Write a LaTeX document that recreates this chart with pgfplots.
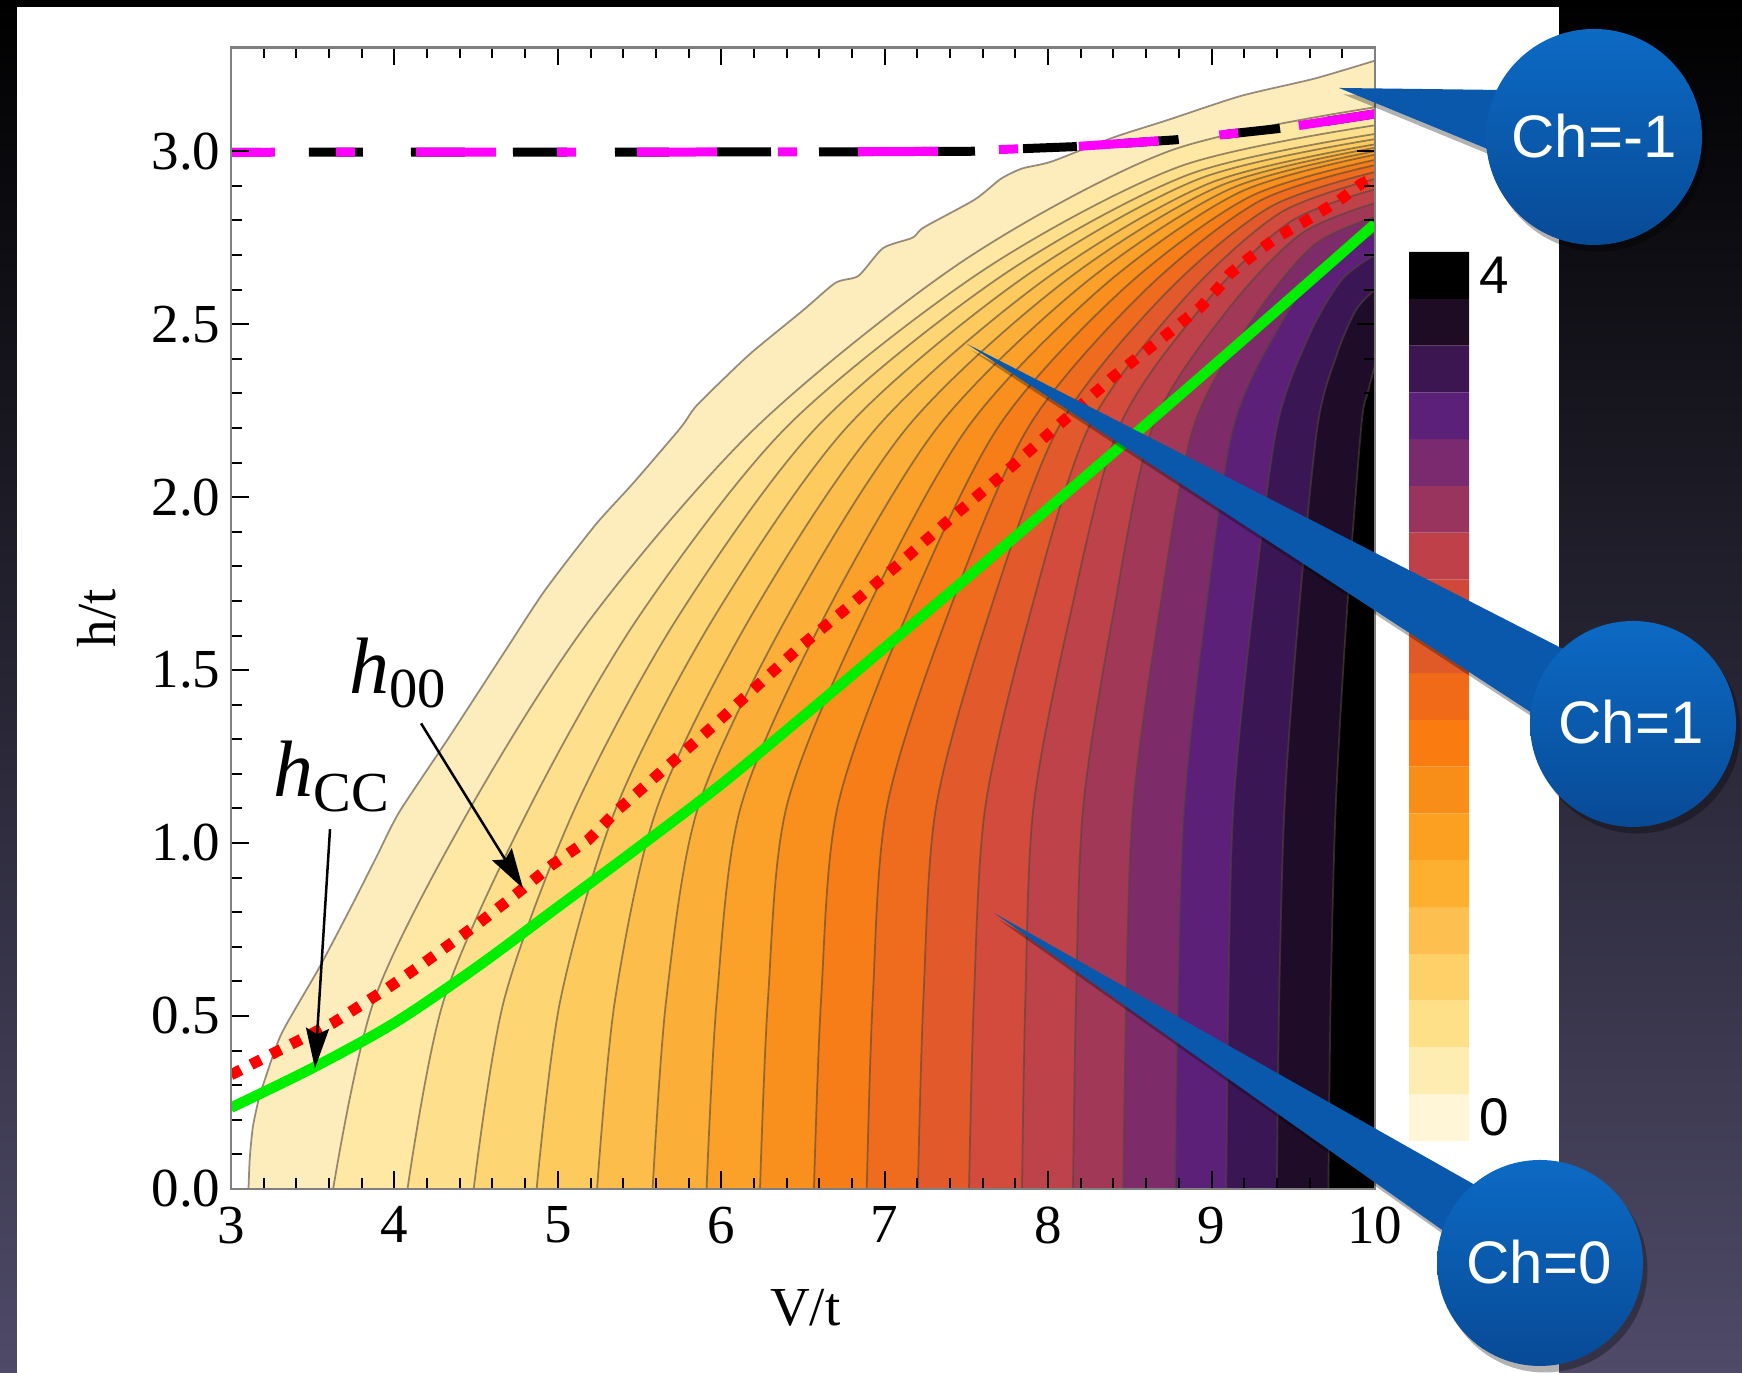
\documentclass[border=0pt]{standalone}
\usepackage{pgfplots}
\pgfplotsset{compat=1.18}
\usepackage{fontspec}
\setmainfont{Liberation Serif}
\newfontfamily\arialfont{Liberation Sans}
\usetikzlibrary{arrows.meta}
% band colours (lightest -> black)
\definecolor{b0}{HTML}{FDEDBC}
\definecolor{b1}{HTML}{FEE8A4}
\definecolor{b2}{HTML}{FEE08C}
\definecolor{b3}{HTML}{FDD573}
\definecolor{b4}{HTML}{FDCA5E}
\definecolor{b5}{HTML}{FDBD4A}
\definecolor{b6}{HTML}{FCAF38}
\definecolor{b7}{HTML}{FBA028}
\definecolor{b8}{HTML}{F98F1C}
\definecolor{b9}{HTML}{F67D17}
\definecolor{b10}{HTML}{EF6B1E}
\definecolor{b11}{HTML}{E25A2C}
\definecolor{b12}{HTML}{D24B3C}
\definecolor{b13}{HTML}{BE4249}
\definecolor{b14}{HTML}{A13858}
\definecolor{b15}{HTML}{7E2B6A}
\definecolor{b16}{HTML}{5C2078}
\definecolor{b17}{HTML}{3B1654}
\definecolor{b18}{HTML}{1F0C28}
\definecolor{b19}{HTML}{000000}
% colorbar swatches (bottom -> top)
\definecolor{cb0}{HTML}{FFF6D8}
\definecolor{cb1}{HTML}{FEEDB0}
\definecolor{cb2}{HTML}{FEE088}
\definecolor{cb3}{HTML}{FDD068}
\definecolor{cb4}{HTML}{FDC050}
\definecolor{cb5}{HTML}{FDB030}
\definecolor{cb6}{HTML}{FBA020}
\definecolor{cb7}{HTML}{F88E18}
\definecolor{cb8}{HTML}{FA7C10}
\definecolor{cb9}{HTML}{F06A18}
\definecolor{cb10}{HTML}{E05A28}
\definecolor{cb11}{HTML}{D04838}
\definecolor{cb12}{HTML}{C0404A}
\definecolor{cb13}{HTML}{98345E}
\definecolor{cb14}{HTML}{7A2A6E}
\definecolor{cb15}{HTML}{5B2078}
\definecolor{cb16}{HTML}{3B1650}
\definecolor{cb17}{HTML}{1E0C24}
\definecolor{cb18}{HTML}{000000}
\definecolor{cline}{RGB}{80,70,60}
\definecolor{hgreen}{RGB}{0,238,0}
\definecolor{hred}{RGB}{255,0,0}
\definecolor{mag}{RGB}{255,0,255}
\definecolor{calloutA}{RGB}{12,106,196}
\definecolor{calloutB}{RGB}{8,74,150}
\definecolor{wedge}{RGB}{9,88,172}
\definecolor{bgbot}{RGB}{78,74,104}
\definecolor{bgmid}{RGB}{16,15,32}

\begin{document}
\begin{tikzpicture}[x=1pt,y=1pt]
% slide background
\shade[top color=black, middle color=bgmid, bottom color=bgbot] (0,0) rectangle (348.4,274.6);
\fill[white] (3.4,0) rectangle (311.8,273.2);

\begin{axis}[
  at={(46.2pt,36.8pt)}, anchor=south west,
  scale only axis, width=228.8pt, height=228.3pt,
  xmin=3, xmax=10, ymin=0, ymax=3.3,
  axis on top,
  xtick={3,4,5,6,7,8,9,10},
  ytick={0,0.5,1,1.5,2,2.5,3},
  minor x tick num=4, minor y tick num=4,
  tick align=inside,
  major tick length=3.6pt, minor tick length=2.2pt,
  tick style={black, line width=0.4pt},
  axis line style={black!50, line width=0.5pt},
  /pgf/number format/assume math mode=true,
  yticklabel style={/pgf/number format/.cd, fixed, fixed zerofill, precision=1, /tikz/.cd, xshift=1.4pt},
  ticklabel style={font=\fontsize{11}{13}\selectfont},
  xlabel={V/t}, ylabel={h/t},
  label style={font=\fontsize{11}{13}\selectfont},
  xlabel style={at={(axis description cs:0.502,-0.104)}, anchor=center},
  ylabel style={at={(axis description cs:-0.117,0.5)}, anchor=center},
  every axis plot/.append style={line join=round},
]
% ---- filled contour bands (region right of each contour line) ----
\addplot[smooth, tension=0.4, fill=b0, draw=cline, draw opacity=0.6, line width=0.35pt] coordinates {
(3.107,0) (3.115,0.09) (3.134,0.18) (3.17,0.26) (3.21,0.32) (3.31,0.45) (3.54,0.64) (3.74,0.82) (3.89,0.96) (4.03,1.09) (4.34,1.31) (4.67,1.55) (4.92,1.73) (5.23,1.92) (5.46,2.04) (5.75,2.20) (5.84,2.26) (6.01,2.34) (6.19,2.42) (6.50,2.54) (6.70,2.62) (6.84,2.64) (6.99,2.72) (7.17,2.75) (7.24,2.78) (7.55,2.86) (7.71,2.92) (7.84,2.95) (8.02,2.97) (8.40,3.04) (8.73,3.09) (9.18,3.16) (9.63,3.21) (10,3.262)} \closedcycle;
\addplot[smooth, tension=0.5, fill=b1, draw=cline, draw opacity=0.6, line width=0.35pt] coordinates {
(3.625,0) (3.879,0.55) (4.47,1.106) (5.203,1.65) (6.215,2.203) (7.477,2.682) (8.738,3.0) (10,3.127)} \closedcycle;
\addplot[smooth, tension=0.5, fill=b2, draw=cline, draw opacity=0.6, line width=0.35pt] coordinates {
(4.08,0) (4.305,0.55) (4.83,1.106) (5.489,1.65) (6.40,2.203) (7.6,2.655) (8.8,2.955) (10,3.075)} \closedcycle;
\addplot[smooth, tension=0.5, fill=b3, draw=cline, draw opacity=0.6, line width=0.35pt] coordinates {
(4.485,0) (4.673,0.55) (5.11,1.106) (5.73,1.65) (6.585,2.203) (7.723,2.642) (8.862,2.933) (10,3.05)} \closedcycle;
\addplot[smooth, tension=0.5, fill=b4, draw=cline, draw opacity=0.6, line width=0.35pt] coordinates {
(4.87,0) (5.017,0.55) (5.36,1.106) (5.952,1.65) (6.77,2.203) (7.847,2.634) (8.923,2.92) (10,3.035)} \closedcycle;
\addplot[smooth, tension=0.5, fill=b5, draw=cline, draw opacity=0.6, line width=0.35pt] coordinates {
(5.24,0) (5.351,0.55) (5.61,1.106) (6.175,1.65) (6.955,2.203) (7.97,2.626) (8.985,2.907) (10,3.02)} \closedcycle;
\addplot[smooth, tension=0.5, fill=b6, draw=cline, draw opacity=0.6, line width=0.35pt] coordinates {
(5.58,0) (5.664,0.55) (5.86,1.106) (6.398,1.65) (7.14,2.203) (8.093,2.621) (9.047,2.899) (10,3.01)} \closedcycle;
\addplot[smooth, tension=0.5, fill=b7, draw=cline, draw opacity=0.6, line width=0.35pt] coordinates {
(5.91,0) (5.973,0.55) (6.12,1.106) (6.626,1.65) (7.325,2.203) (8.217,2.616) (9.108,2.89) (10,3.0)} \closedcycle;
\addplot[smooth, tension=0.5, fill=b8, draw=cline, draw opacity=0.6, line width=0.35pt] coordinates {
(6.237,0) (6.286,0.55) (6.40,1.106) (6.866,1.65) (7.51,2.203) (8.34,2.611) (9.17,2.881) (10,2.99)} \closedcycle;
\addplot[smooth, tension=0.5, fill=b9, draw=cline, draw opacity=0.6, line width=0.35pt] coordinates {
(6.567,0) (6.611,0.55) (6.712,1.106) (7.125,1.65) (7.695,2.203) (8.463,2.603) (9.232,2.868) (10,2.975)} \closedcycle;
\addplot[smooth, tension=0.5, fill=b10, draw=cline, draw opacity=0.6, line width=0.35pt] coordinates {
(6.89,0) (6.927,0.55) (7.014,1.106) (7.378,1.65) (7.88,2.203) (8.587,2.595) (9.293,2.856) (10,2.96)} \closedcycle;
\addplot[smooth, tension=0.5, fill=b11, draw=cline, draw opacity=0.6, line width=0.35pt] coordinates {
(7.203,0) (7.237,0.55) (7.315,1.106) (7.63,1.65) (8.065,2.203) (8.71,2.585) (9.355,2.838) (10,2.94)} \closedcycle;
\addplot[smooth, tension=0.5, fill=b12, draw=cline, draw opacity=0.6, line width=0.35pt] coordinates {
(7.516,0) (7.546,0.55) (7.616,1.106) (7.882,1.65) (8.25,2.203) (8.833,2.574) (9.417,2.821) (10,2.92)} \closedcycle;
\addplot[smooth, tension=0.5, fill=b13, draw=cline, draw opacity=0.6, line width=0.35pt] coordinates {
(7.84,0) (7.861,0.55) (7.911,1.106) (8.131,1.65) (8.435,2.203) (8.957,2.559) (9.478,2.795) (10,2.89)} \closedcycle;
\addplot[smooth, tension=0.5, fill=b14, draw=cline, draw opacity=0.6, line width=0.35pt] coordinates {
(8.152,0) (8.171,0.55) (8.215,1.106) (8.394,1.65) (8.64,2.203) (9.093,2.538) (9.547,2.761) (10,2.85)} \closedcycle;
\addplot[smooth, tension=0.5, fill=b15, draw=cline, draw opacity=0.6, line width=0.35pt] coordinates {
(8.46,0) (8.478,0.55) (8.52,1.106) (8.675,1.65) (8.89,2.203) (9.26,2.52) (9.63,2.73) (10,2.81)} \closedcycle;
\addplot[smooth, tension=0.5, fill=b16, draw=cline, draw opacity=0.6, line width=0.35pt] coordinates {
(8.777,0) (8.794,0.55) (8.833,1.106) (8.959,1.65) (9.134,2.203) (9.423,2.50) (9.711,2.69) (10,2.76)} \closedcycle;
\addplot[smooth, tension=0.5, fill=b17, draw=cline, draw opacity=0.6, line width=0.35pt] coordinates {
(9.09,0) (9.103,0.55) (9.134,1.106) (9.246,1.65) (9.40,2.203) (9.6,2.47) (9.8,2.63) (10,2.70)} \closedcycle;
\addplot[smooth, tension=0.5, fill=b18, draw=cline, draw opacity=0.6, line width=0.35pt] coordinates {
(9.40,0) (9.414,0.55) (9.447,1.106) (9.531,1.65) (9.648,2.203) (9.765,2.41) (9.883,2.54) (10,2.60)} \closedcycle;
\addplot[smooth, tension=0.5, fill=b19, draw=cline, draw opacity=0.6, line width=0.35pt] coordinates {
(9.715,0) (9.729,0.55) (9.76,1.106) (9.826,1.65) (9.916,2.203) (9.955,2.30) (10,2.38)} \closedcycle;

% ---- dashed black / magenta curve near h=3 ----
\addplot[black, line width=1.8pt, dash pattern=on 10.8pt off 9.6pt, dash phase=4.8pt] coordinates {
(3,2.997) (6.6,2.998) (7.55,3.0) (7.71,3.005) (8.15,3.013) (8.78,3.033) (9.07,3.048) (9.40,3.065) (9.63,3.081) (10,3.108)};
\addplot[mag, line width=1.8pt, dash pattern=on 16pt off 12.2pt on 3.8pt off 12.2pt, dash phase=7.2pt] coordinates {
(3,2.997) (6.6,2.998) (7.55,3.0) (7.71,3.005) (8.15,3.013) (8.78,3.033) (9.07,3.048) (9.40,3.065) (9.63,3.081) (10,3.108)};

% ---- h_CC (green) ----
\addplot[hgreen, line width=2.1pt, smooth, tension=0.5] coordinates {
(3.0,0.235) (3.5,0.35) (4.0,0.48) (4.5,0.64) (5.0,0.815) (5.5,0.99) (6.0,1.17) (6.5,1.366) (7.0,1.565) (7.5,1.765) (8.0,1.967) (8.5,2.17) (9.0,2.375) (9.5,2.582) (10,2.79)};

% ---- h_00 (red dotted) ----
\addplot[hred, line width=2.2pt, dash pattern=on 2.2pt off 2.3pt] coordinates {
(3.0,0.33) (3.246,0.389) (3.625,0.480) (3.96,0.581) (4.183,0.654) (4.518,0.769) (4.741,0.851) (4.965,0.937) (5.188,1.010) (5.367,1.096) (5.947,1.337) (6.237,1.462) (6.483,1.568) (6.768,1.679) (7.08,1.804) (7.393,1.934) (7.706,2.059) (8.018,2.189) (8.398,2.348) (8.733,2.473) (8.934,2.550) (9.045,2.607) (9.112,2.646) (9.224,2.689) (9.402,2.752) (9.581,2.800) (9.782,2.858) (9.916,2.906) (10,2.925)};

% ---- annotations ----
\draw[line width=0.5pt, -{Stealth[length=8pt, width=4.6pt, inset=1.2pt]}] (axis cs:4.163,1.346) -- (axis cs:4.787,0.869);
\draw[line width=0.5pt, -{Stealth[length=8pt, width=4.6pt, inset=1.2pt]}] (axis cs:3.606,1.040) -- (axis cs:3.514,0.349);
\node[anchor=base west, inner sep=0] at (axis cs:3.716,1.432) {\fontsize{16}{18}\selectfont\textit{h}\raisebox{-2.8pt}{\fontsize{11.3}{13}\selectfont 00}};
\node[anchor=base west, inner sep=0] at (axis cs:3.257,1.135) {\fontsize{16}{18}\selectfont\textit{h}\raisebox{-3pt}{\fontsize{11.3}{13}\selectfont CC}};
\end{axis}

% ---- colour bar ----
\begin{axis}[
  at={(281.8pt,46.4pt)}, anchor=south west,
  scale only axis, width=12pt, height=177.8pt,
  xmin=0, xmax=1, ymin=0, ymax=19, hide axis, clip=false]
\addplot[draw=none, fill=cb0] coordinates {(0,0) (1,0) (1,1) (0,1) (0,0)};
\addplot[draw=none, fill=cb1] coordinates {(0,1) (1,1) (1,2) (0,2) (0,1)};
\addplot[draw=none, fill=cb2] coordinates {(0,2) (1,2) (1,3) (0,3) (0,2)};
\addplot[draw=none, fill=cb3] coordinates {(0,3) (1,3) (1,4) (0,4) (0,3)};
\addplot[draw=none, fill=cb4] coordinates {(0,4) (1,4) (1,5) (0,5) (0,4)};
\addplot[draw=none, fill=cb5] coordinates {(0,5) (1,5) (1,6) (0,6) (0,5)};
\addplot[draw=none, fill=cb6] coordinates {(0,6) (1,6) (1,7) (0,7) (0,6)};
\addplot[draw=none, fill=cb7] coordinates {(0,7) (1,7) (1,8) (0,8) (0,7)};
\addplot[draw=none, fill=cb8] coordinates {(0,8) (1,8) (1,9) (0,9) (0,8)};
\addplot[draw=none, fill=cb9] coordinates {(0,9) (1,9) (1,10) (0,10) (0,9)};
\addplot[draw=none, fill=cb10] coordinates {(0,10) (1,10) (1,11) (0,11) (0,10)};
\addplot[draw=none, fill=cb11] coordinates {(0,11) (1,11) (1,12) (0,12) (0,11)};
\addplot[draw=none, fill=cb12] coordinates {(0,12) (1,12) (1,13) (0,13) (0,12)};
\addplot[draw=none, fill=cb13] coordinates {(0,13) (1,13) (1,14) (0,14) (0,13)};
\addplot[draw=none, fill=cb14] coordinates {(0,14) (1,14) (1,15) (0,15) (0,14)};
\addplot[draw=none, fill=cb15] coordinates {(0,15) (1,15) (1,16) (0,16) (0,15)};
\addplot[draw=none, fill=cb16] coordinates {(0,16) (1,16) (1,17) (0,17) (0,16)};
\addplot[draw=none, fill=cb17] coordinates {(0,17) (1,17) (1,18) (0,18) (0,17)};
\addplot[draw=none, fill=cb18] coordinates {(0,18) (1,18) (1,19) (0,19) (0,18)};
\node[anchor=west, inner sep=0, font=\arialfont\fontsize{10.6}{12}\selectfont] at (axis cs:1.15,18.5) {4};
\node[anchor=west, inner sep=0, font=\arialfont\fontsize{10.6}{12}\selectfont] at (axis cs:1.15,0.5) {0};
\end{axis}

% ---- callouts ----
\begin{scope}[shift={(0.9,-1.3)}]
\fill[black, opacity=0.3] (267.8,257) -- (300,256.6) -- (298,244.6) -- cycle;
\fill[black, opacity=0.3] (318.8,247.2) circle (21.6);
\fill[black, opacity=0.3] (193.4,205.8) -- (313,144.6) -- (307,131.6) -- cycle;
\fill[black, opacity=0.3] (326.6,129.8) circle (20.6);
\fill[black, opacity=0.3] (198.8,92) -- (295,37.6) -- (289,28.2) -- cycle;
\fill[black, opacity=0.3] (308,22) circle (20.6);
\end{scope}
\fill[wedge] (267.8,257) -- (300,256.6) -- (298,244.6) -- cycle;
\shade[top color=calloutA, bottom color=calloutB] (318.8,247.2) circle (21.6);
\fill[wedge] (193.4,205.8) -- (313,144.6) -- (307,131.6) -- cycle;
\shade[top color=calloutA, bottom color=calloutB] (326.6,129.8) circle (20.6);
\fill[wedge] (198.8,92) -- (295,37.6) -- (289,28.2) -- cycle;
\shade[top color=calloutA, bottom color=calloutB] (308,22) circle (20.6);
\node[text=white, font=\arialfont\fontsize{12}{14}\selectfont] at (318.8,247.4) {Ch=-1};
\node[text=white, font=\arialfont\fontsize{12}{14}\selectfont] at (326.2,130.2) {Ch=1};
\node[text=white, font=\arialfont\fontsize{12}{14}\selectfont] at (307.8,22.2) {Ch=0};

\pgfresetboundingbox
\path[use as bounding box] (0,0) rectangle (348.4,274.6);
\end{tikzpicture}
\end{document}
